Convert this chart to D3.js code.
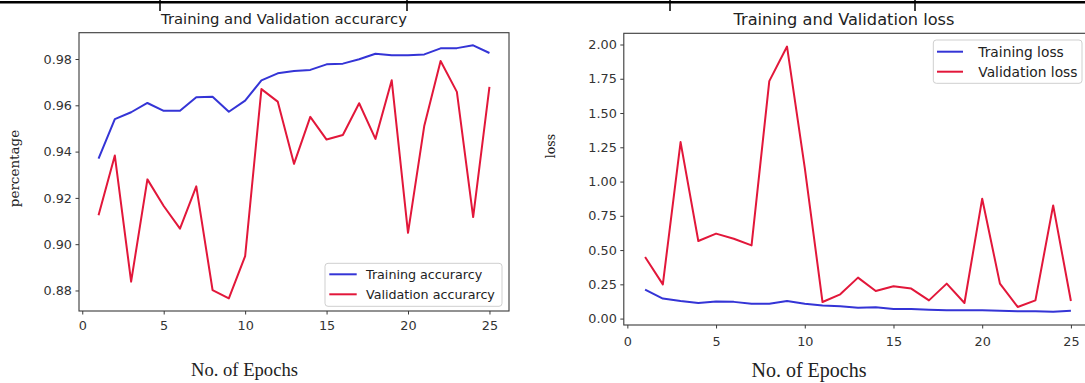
<!DOCTYPE html>
<html>
<head>
<meta charset="utf-8">
<script src="https://cdn.jsdelivr.net/npm/d3@7"></script>
<style>
  html, body { margin: 0; padding: 0; background: #fff; overflow: hidden; }
  svg { display: block; }
</style>
</head>
<body>
<svg id="chart" width="1085" height="383"></svg>
<script>
// ---------- data ----------
const epochs = [1,2,3,4,5,6,7,8,9,10,11,12,13,14,15,16,17,18,19,20,21,22,23,24,25];
const trainAcc = [0.937,0.954,0.957,0.961,0.9576,0.9576,0.9635,0.9637,0.9572,0.962,0.9708,0.9738,0.9748,0.9753,0.9777,0.978,0.9799,0.9823,0.9816,0.9816,0.982,0.9846,0.9847,0.9859,0.9826];
const valAcc = [0.9125,0.9383,0.8838,0.928,0.9165,0.9067,0.925,0.8802,0.8766,0.8948,0.967,0.9616,0.9347,0.955,0.9452,0.9472,0.9609,0.9455,0.9708,0.9049,0.9512,0.9791,0.9658,0.9117,0.968];
const trainLoss = [0.211,0.146,0.128,0.114,0.125,0.122,0.109,0.109,0.128,0.109,0.095,0.09,0.08,0.083,0.07,0.07,0.065,0.06,0.06,0.06,0.058,0.053,0.053,0.05,0.058];
const valLoss = [0.449,0.25,1.288,0.566,0.62,0.583,0.534,1.733,1.985,1.10,0.121,0.177,0.299,0.201,0.236,0.219,0.133,0.255,0.114,0.875,0.255,0.085,0.133,0.826,0.128];
const xTicks = [0,5,10,15,20,25];
const accTicks = [0.88,0.90,0.92,0.94,0.96,0.98];
const lossTicks = [0.00,0.25,0.50,0.75,1.00,1.25,1.50,1.75,2.00];
const accTitle = "Training and Validation accurarcy";
const lossTitle = "Training and Validation loss";
const accLegend = ["Training accurarcy", "Validation accurarcy"];
const lossLegend = ["Training loss", "Validation loss"];
const xLabel = "No. of Epochs";
const accYLabel = "percentage";
const lossYLabel = "loss";

// ---------- styles ----------
const BLUE = "#3434d6";
const RED = "#e2173a";
const TICK_COL = "#333";
const SPINE_COL = "#3a3a3a";

const svg = d3.select("#chart");

// top table border
svg.append("rect").attr("x", 0).attr("y", 1).attr("width", 1085).attr("height", 2.5).attr("fill", "#000");
[160, 407, 670, 915].forEach(x => {
  svg.append("line").attr("x1", x).attr("x2", x).attr("y1", 0).attr("y2", 11)
    .attr("stroke", "#000").attr("stroke-width", 1.5);
});

function pad(ext) {
  const r = ext[1] - ext[0];
  return [ext[0] - r * 0.05, ext[1] + r * 0.05];
}

function panel(cfg) {
  const x = d3.scaleLinear().domain(pad(d3.extent(epochs))).range([cfg.left, cfg.right]);
  const allY = cfg.series.flatMap(s => s.values);
  const y = d3.scaleLinear().domain(pad(d3.extent(allY))).range([cfg.bottom, cfg.top]);
  const g = svg.append("g");

  g.append("rect").attr("x", cfg.left).attr("y", cfg.top)
    .attr("width", cfg.right - cfg.left).attr("height", cfg.bottom - cfg.top)
    .attr("fill", "#fff");

  const line = d3.line().x((d, i) => x(epochs[i])).y(d => y(d));
  cfg.series.forEach(s => {
    g.append("path").datum(s.values).attr("d", line)
      .attr("fill", "none").attr("stroke", s.color).attr("stroke-width", 2)
      .attr("stroke-linejoin", "round");
  });

  const xAxis = d3.axisBottom(x).tickValues(xTicks).tickFormat(d3.format("d"))
    .tickSize(3.5).tickPadding(cfg.xPad);
  const yAxis = d3.axisLeft(y).tickValues(cfg.yTicks).tickFormat(d3.format(".2f"))
    .tickSize(3.5).tickPadding(3.5);
  const gx = g.append("g").attr("transform", `translate(0,${cfg.bottom})`).call(xAxis);
  const gy = g.append("g").attr("transform", `translate(${cfg.left},0)`).call(yAxis);
  [gx, gy].forEach(a => {
    a.select(".domain").remove();
    a.selectAll("line").attr("stroke", SPINE_COL);
    a.selectAll("text").attr("fill", TICK_COL)
      .style("font-family", "'DejaVu Sans', sans-serif").style("font-size", cfg.tickFs + "px");
  });

  g.append("rect").attr("x", cfg.left).attr("y", cfg.top)
    .attr("width", cfg.right - cfg.left).attr("height", cfg.bottom - cfg.top)
    .attr("fill", "none").attr("stroke", SPINE_COL).attr("stroke-width", 1.1);

  g.append("text").attr("x", cfg.titleX).attr("y", cfg.titleY).attr("text-anchor", "middle")
    .attr("fill", "#222").style("font-family", "'DejaVu Sans', sans-serif")
    .style("font-size", cfg.titleFs + "px").text(cfg.title);

  g.append("text").attr("x", cfg.xLabelX).attr("y", cfg.xLabelY).attr("text-anchor", "middle")
    .attr("fill", "#222").style("font-family", "'Liberation Serif', serif")
    .style("font-size", cfg.xLabelFs + "px").text(xLabel);

  g.append("text").attr("transform", `translate(${cfg.yLabelX},${cfg.yLabelY}) rotate(-90)`)
    .attr("text-anchor", "middle").attr("fill", "#222")
    .style("font-family", "'DejaVu Serif', serif")
    .style("font-size", cfg.yLabelFs + "px").text(cfg.yLabel);

  const L = cfg.legend;
  const lg = g.append("g");
  lg.append("rect").attr("x", L.x).attr("y", L.y).attr("width", L.w).attr("height", L.h)
    .attr("rx", 3).attr("fill", "#fff").attr("fill-opacity", 0.9)
    .attr("stroke", "#cfcfcf").attr("stroke-width", 1);
  cfg.series.forEach((s, i) => {
    const cy = L.y + L.first + i * L.step;
    lg.append("line").attr("x1", L.lineX0).attr("x2", L.lineX1).attr("y1", cy).attr("y2", cy)
      .attr("stroke", s.color).attr("stroke-width", 2);
    lg.append("text").attr("x", L.textX).attr("y", cy + L.fs * 0.36)
      .attr("fill", "#222").style("font-family", "'DejaVu Sans', sans-serif")
      .style("font-size", L.fs + "px").text(s.label);
  });
}

panel({
  left: 79, right: 509, top: 32.7, bottom: 311,
  yTicks: accTicks, tickFs: 12.8, xPad: 6,
  series: [
    { values: trainAcc, color: BLUE, label: accLegend[0] },
    { values: valAcc, color: RED, label: accLegend[1] }
  ],
  title: accTitle, titleX: 284, titleY: 24, titleFs: 14.8,
  xLabelX: 244.5, xLabelY: 376, xLabelFs: 18.6,
  yLabel: accYLabel, yLabelX: 18.5, yLabelY: 168.5, yLabelFs: 13.5,
  legend: { x: 325, y: 263.3, w: 177, h: 43, first: 11, step: 20,
            lineX0: 329.3, lineX1: 356.7, textX: 366, fs: 12.7 }
});

panel({
  left: 623.8, right: 1092.2, top: 33.3, bottom: 325,
  yTicks: lossTicks, tickFs: 12.8, xPad: 8,
  series: [
    { values: trainLoss, color: BLUE, label: lossLegend[0] },
    { values: valLoss, color: RED, label: lossLegend[1] }
  ],
  title: lossTitle, titleX: 844, titleY: 25, titleFs: 16.2,
  xLabelX: 809, xLabelY: 377, xLabelFs: 20,
  yLabel: lossYLabel, yLabelX: 555, yLabelY: 146, yLabelFs: 12.5,
  legend: { x: 933.3, y: 40, w: 148.7, h: 43.3, first: 11.7, step: 20,
            lineX0: 937, lineX1: 963, textX: 978.3, fs: 13.8 }
});
</script>
</body>
</html>
